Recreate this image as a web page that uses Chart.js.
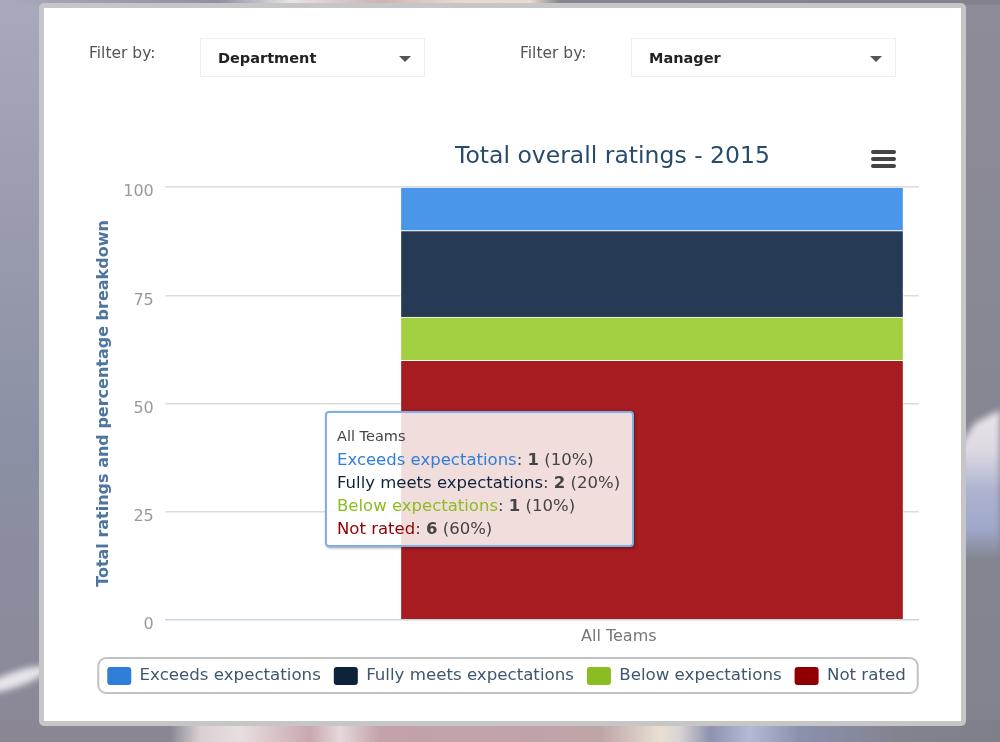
<!DOCTYPE html>
<html>
<head>
<meta charset="utf-8">
<script src="https://cdn.jsdelivr.net/npm/chart.js@4/dist/chart.umd.js"></script>
<style>
  html, body { margin: 0; padding: 0; }
  body { width: 1000px; height: 742px; overflow: hidden; position: relative; font-family: "DejaVu Sans", sans-serif;
    background: linear-gradient(180deg, #a8a9bb 0%, #9a9cae 30%, #8b90a4 60%, #8b8896 100%); }
  .rightside { position: absolute; left: 960px; top: 0; width: 40px; height: 742px; background: linear-gradient(180deg, #8d8c98 0%, #82838f 100%); }
  .blob { position: absolute; left: 960px; top: 405px; width: 40px; height: 155px; filter: blur(3px); }
  .blob div { width: 100%; height: 100%; clip-path: polygon(0 40px, 15px 18px, 40px 5px, 40px 155px, 0 155px);
    background: linear-gradient(180deg, #ece6ea 0, #ddd8e2 30%, #adb3d0 55%, #a0a8ca 80%, #83848f 100%); }
  .streak { position: absolute; left: -20px; top: 672px; width: 70px; height: 15px; border-radius: 50%; background: #e8e6ea; transform: rotate(-19deg); filter: blur(3px); }
  .strip-b { position: absolute; left: 0; top: 720px; width: 1000px; height: 22px;
    background: linear-gradient(90deg, #8a8792 0%, #8a8792 17%, #d9cfd3 20%, #e8dfe0 24%, #c9a8ae 31%, #e6d8da 34%, #c3a2a9 38%, #bfa4a8 60%, #e8e0d2 66%, #d8d4d4 68%, #8e92b0 71%, #b4bad6 75%, #8b90ad 80%, #83838f 90%, #7f7f8a 100%); }
  .strip-t { position: absolute; left: 0; top: 0; width: 1000px; height: 5px;
    background: linear-gradient(90deg, #a8a9bb 0%, #8f90a2 22%, #e9e3e6 29%, #cdb3b4 38%, #ead9cf 46%, #e8dccf 53%, #86858f 56%, #82828d 100%); }
  .panel { position: absolute; left: 39px; top: 3px; width: 917px; height: 713px; background: #fff; border: 5px solid #c6c6c6; border-radius: 5px; }
  canvas { position: absolute; left: 44px; top: 130px; filter: blur(.5px); }
  .lbl { position: absolute; top: 44px; font-size: 15.5px; color: #555; filter: blur(.5px); }
  .sel { position: absolute; top: 38px; height: 39px; box-sizing: border-box; border: 1px solid #eee; background: #fff;
    font-size: 14.5px; font-weight: bold; color: #222; line-height: 39px; padding-left: 17px; }
  .sel i { position: absolute; right: 13px; top: 17px; border: 6px solid transparent; border-top: 6px solid #555; border-bottom: 0; }
  .menu { position: absolute; left: 871px; top: 150px; width: 25px; height: 4px; background: #444; border-radius: 2px; box-shadow: 0 7px 0 #444, 0 14px 0 #444; }
  #tip { position: absolute; left: 325px; top: 411px; width: 309px; height: 136px; box-sizing: border-box; padding: 12px 0 0 10px;
    background: rgba(255,255,255,.85); border: 2px solid #7cb0e6; border-radius: 4px; box-shadow: 1px 1px 3px rgba(0,0,0,.4);
    font-size: 16.5px; line-height: 23px; color: #444; white-space: nowrap; }
  #tip .t { font-size: 14.5px; }
  .soft { filter: blur(.5px); }
</style>
</head>
<body>
<div class="rightside"></div>
<div class="blob"><div></div></div>
<div class="streak"></div>
<div class="strip-b"></div>
<div class="strip-t"></div>
<div class="panel"></div>
<div class="lbl" style="left:89px">Filter by:</div>
<div class="sel soft" style="left:200px;width:225px">Department<i></i></div>
<div class="lbl" style="left:520px">Filter by:</div>
<div class="sel soft" style="left:631px;width:265px">Manager<i></i></div>
<canvas id="c1" width="916" height="590" style="width:916px;height:590px"></canvas>
<div class="menu soft"></div>
<div id="tip" class="soft"></div>
<script>
// data
const categories = ['All Teams'];
const seriesNames = ['Exceeds expectations', 'Fully meets expectations', 'Below expectations', 'Not rated'];
const percentValues = [10, 20, 10, 60];
const countValues = [1, 2, 1, 6];
const yTicks = [0, 25, 50, 75, 100];
const chartTitle = 'Total overall ratings - 2015';
const yTitle = 'Total ratings and percentage breakdown';

const barColors = ['#4a96ea', '#263a55', '#a3cf42', '#a61c20'];
const legendColors = ['#2f7ed8', '#0d233a', '#8bbc21', '#910000'];

// the original column sits right of the plot centre, its label does not quite follow
const BAR_POS = 0.646, LABEL_POS = 0.602;

const tip = document.getElementById('tip');
tip.innerHTML = `<div class="t">${categories[0]}</div>` + seriesNames.map((n, i) =>
  `<div><span style="color:${legendColors[i]}">${n}</span>: <b>${countValues[i]}</b> (${percentValues[i]}%)</div>`).join('');

const legendFrame = {
  id: 'legendFrame',
  afterLayout(c) { c.titleBlock.left += 212; },
  beforeDraw(c) {
    const g = c.ctx, hb = c.legend.legendHitBoxes;
    const a = hb[0], z = hb[hb.length - 1];
    g.save();
    g.strokeStyle = '#c2c2c2'; g.lineWidth = 2;
    g.beginPath();
    g.roundRect(a.left - 9, a.top - 9, z.left + z.width + 12 - (a.left - 9), 35, 8);
    g.stroke();
    g.restore();
  }
};

// draw order: bottom of the stack first
const order = [3, 2, 1, 0];
new Chart(document.getElementById('c1'), {
  type: 'bar',
  plugins: [legendFrame],
  data: {
    datasets: order.map(i => ({
      label: seriesNames[i],
      data: [{ x: BAR_POS, y: percentValues[i] }],
      backgroundColor: barColors[i],
      borderColor: 'rgba(255,255,255,.7)',
      borderWidth: 1,
      barThickness: 503
    }))
  },
  options: {
    responsive: false, animation: false,
    layout: { padding: { left: 50, right: 41, top: 0, bottom: 25 } },
    plugins: {
      tooltip: { enabled: false },
      title: { display: true, text: chartTitle, color: '#274b6d', font: { family: 'DejaVu Sans', size: 23.5, weight: 'normal' }, padding: { top: 13, bottom: 16 } },
      legend: {
        position: 'bottom',
        labels: {
          color: '#3e576f', font: { family: 'DejaVu Sans', size: 16.65 }, boxWidth: 24, boxHeight: 18, padding: 13, useBorderRadius: true, borderRadius: 3,
          generateLabels: () => seriesNames.map((n, i) => ({ text: n, fillStyle: legendColors[i], strokeStyle: legendColors[i], lineWidth: 0, borderRadius: 3, fontColor: '#3e576f' }))
        }
      }
    },
    scales: {
      x: {
        type: 'linear', min: 0, max: 1, stacked: true, offset: false,
        grid: { display: false }, border: { display: false },
        afterBuildTicks: ax => { ax.ticks = [{ value: LABEL_POS }]; },
        afterFit: ax => { ax.height += 9; },
        ticks: { color: '#777', font: { family: 'DejaVu Sans', size: 16 }, padding: -1, maxRotation: 0, callback: () => categories[0] }
      },
      y: {
        min: 0, max: 100, stacked: true,
        border: { display: false },
        grid: { color: ctx => ctx.tick.value === 0 ? '#c8d6e6' : '#dcdcdc', lineWidth: 1.5, drawTicks: false },
        afterBuildTicks: ax => { ax.ticks = yTicks.map(v => ({ value: v })); },
        afterFit: ax => { ax.width -= 9; },
        ticks: { color: '#999', font: { family: 'DejaVu Sans', size: 16 }, padding: 11, labelOffset: 5 },
        title: { display: true, text: yTitle, color: '#4d759e', font: { family: 'DejaVu Sans', size: 16, weight: 'bold' }, padding: { top: 0, bottom: 8 } }
      }
    }
  }
});
</script>
</body>
</html>
